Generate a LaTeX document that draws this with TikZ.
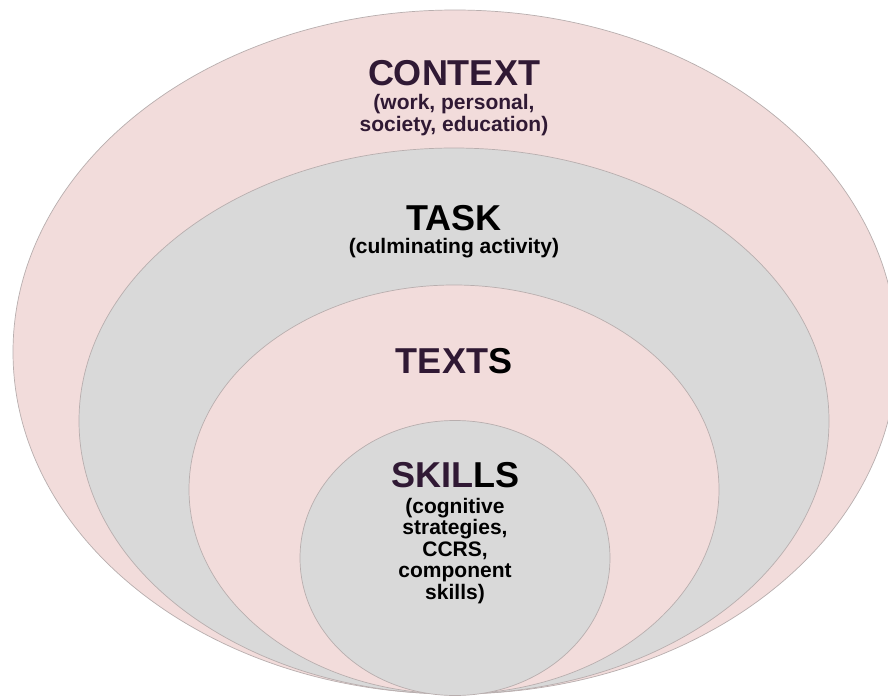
\documentclass[tikz,border=0pt]{standalone}
\usepackage{fontspec}
\setmainfont{Liberation Sans}
\definecolor{ringpink}{HTML}{F2DCDB}
\definecolor{ringgray}{HTML}{D9D9D9}
\definecolor{ringedge}{HTML}{B8AEAE}
\definecolor{darkplum}{HTML}{301934}
\tikzset{
  ring/.style={line width=0.7pt, draw=ringedge},
  title/.style={anchor=base, font=\bfseries\fontsize{36}{36}\selectfont},
  subtitle/.style={anchor=base, align=center, font=\bfseries\fontsize{21}{21.5}\selectfont}
}
\begin{document}
\begin{tikzpicture}[x=1pt, y=-1pt]
            \clip (0, 0) rectangle (888, 696);
            \fill[white] (0, 0) rectangle (888, 696);
            \draw[ring, fill=ringpink] (455, 352) ellipse (442 and 342);
            \draw[ring, fill=ringgray] (454, 421) ellipse (375 and 273);
            \draw[ring, fill=ringpink] (454, 489.5) ellipse (265 and 204.5);
            \draw[ring, fill=ringgray] (455, 558) ellipse (155 and 137.5);
            % multi-line nodes sit on their last baseline
            \node[title, text=darkplum] (context) at (454, 85) {CONTEXT};
            \node[subtitle, text=darkplum] (contextsub) at (454, 131) {(work, personal,\\society, education)};
            \node[title] (task) at (454, 230) {TASK};
            \node[subtitle] (tasksub) at (454, 253) {(culminating activity)};
            \node[title] (texts) at (454, 373) {{\color{darkplum}TEXT}S};
            \node[title] (skills) at (455, 487) {{\color{darkplum}SKIL}LS};
            \node[subtitle] (skillssub) at (455, 599) {(cognitive\\strategies,\\CCRS,\\component\\skills)};
        \end{tikzpicture}
\end{document}
